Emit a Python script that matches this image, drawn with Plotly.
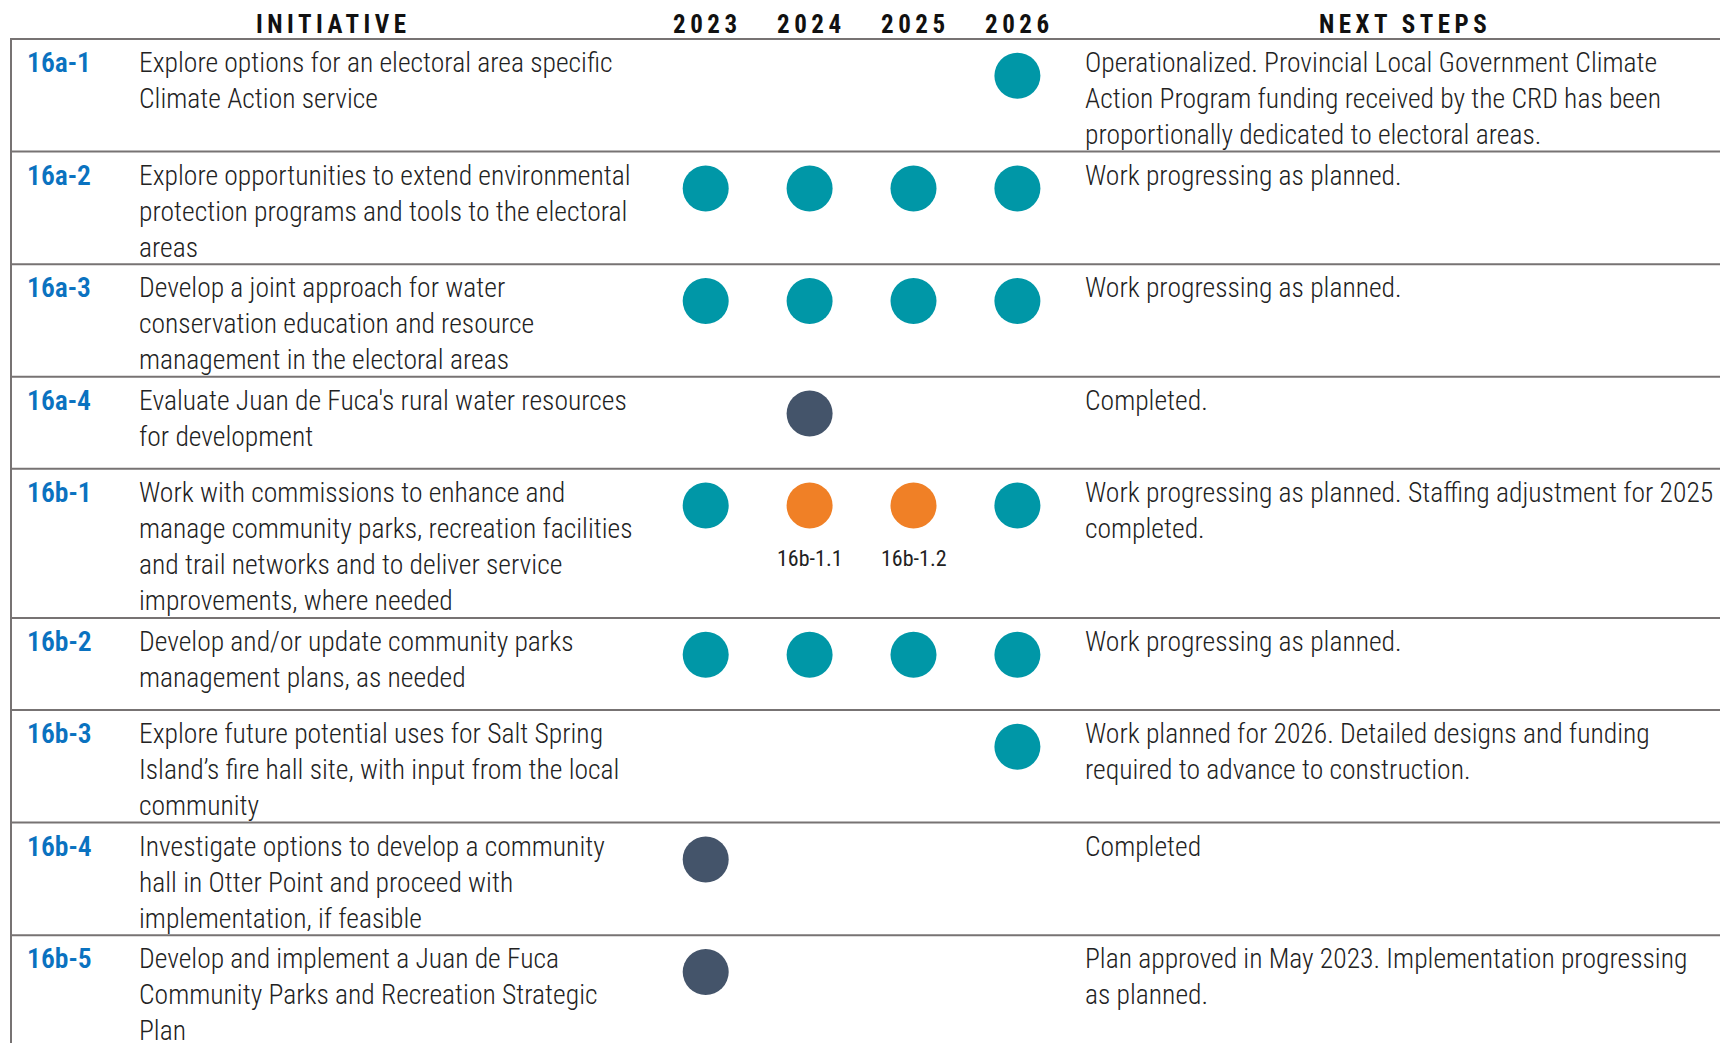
import plotly.graph_objects as go

# ---------------- data ----------------
ids = ["16a-1", "16a-2", "16a-3", "16a-4", "16b-1", "16b-2", "16b-3", "16b-4", "16b-5"]
initiatives = [
    "Explore options for an electoral area specific<br>Climate Action service",
    "Explore opportunities to extend environmental<br>protection programs and tools to the electoral<br>areas",
    "Develop a joint approach for water<br>conservation education and resource<br>management in the electoral areas",
    "Evaluate Juan de Fuca's rural water resources<br>for development",
    "Work with commissions to enhance and<br>manage community parks, recreation facilities<br>and trail networks and to deliver service<br>improvements, where needed",
    "Develop and/or update community parks<br>management plans, as needed",
    "Explore future potential uses for Salt Spring<br>Island\u2019s fire hall site, with input from the local<br>community",
    "Investigate options to develop a community<br>hall in Otter Point and proceed with<br>implementation, if feasible",
    "Develop and implement a Juan de Fuca<br>Community Parks and Recreation Strategic<br>Plan",
]
next_steps = [
    "Operationalized. Provincial Local Government Climate<br>Action Program funding received by the CRD has been<br>proportionally dedicated to electoral areas.",
    "Work progressing as planned.",
    "Work progressing as planned.",
    "Completed.",
    "Work progressing as planned. Staffing adjustment for 2025<br>completed.",
    "Work progressing as planned.",
    "Work planned for 2026. Detailed designs and funding<br>required to advance to construction.",
    "Completed",
    "Plan approved in May 2023. Implementation progressing<br>as planned.",
]
years = [2023, 2024, 2025, 2026]
# status per row for each year: "P" = in progress/planned, "C" = complete, "A" = adjusted, None = nothing
status = [
    [None, None, None, "P"],
    ["P", "P", "P", "P"],
    ["P", "P", "P", "P"],
    [None, "C", None, None],
    ["P", "A", "A", "P"],
    ["P", "P", "P", "P"],
    [None, None, None, "P"],
    ["C", None, None, None],
    ["C", None, None, None],
]
sub_labels = [
    [None] * 4, [None] * 4, [None] * 4, [None] * 4,
    [None, "16b-1.1", "16b-1.2", None],
    [None] * 4, [None] * 4, [None] * 4, [None] * 4,
]
headers = ["INITIATIVE", "NEXT STEPS"]

# ---------------- styles / layout ----------------
W, H = 1720, 1043
colors = {"P": "#0097A7", "C": "#44546A", "A": "#F08026"}
line_color = "#777373"
text_color = "#222222"
id_color = "#0A72C0"
body_font = "Roboto Condensed"
body_size = 27.6
line_h = 36.6
table_top = 39
left_x = 11
id_x = 25
init_x = 137
next_x = 1083
year0_px, year_step_px = 705.7, 103.9
marker_d = 46
ls = 4.5

def nlines(s):
    return s.count("<br>") + 1

row_h = [max(92.0, nlines(a) * line_h + 2.8, nlines(b) * line_h + 2.8) for a, b in zip(initiatives, next_steps)]
row_top = []
t = table_top
for h in row_h:
    row_top.append(t)
    t += h

fig = go.Figure()

for code in ["P", "C", "A"]:
    xs, ys = [], []
    for i, row in enumerate(status):
        for j, s in enumerate(row):
            if s == code:
                xs.append(years[j])
                ys.append(row_top[i] + 36.8)
    fig.add_trace(go.Scatter(x=xs, y=ys, mode="markers", xaxis="x2", yaxis="y",
                             marker=dict(size=marker_d, color=colors[code], line=dict(width=0)),
                             hoverinfo="skip", showlegend=False))

for i, row in enumerate(sub_labels):
    for j, lab in enumerate(row):
        if lab:
            fig.add_annotation(x=years[j], y=row_top[i] + 90, xref="x2", yref="y", text=lab,
                               showarrow=False, xanchor="center", yanchor="middle",
                               font=dict(family=body_font, size=22, weight=400, color=text_color))

for i in range(len(ids)):
    ty = row_top[i] + 5
    fig.add_annotation(x=id_x, y=ty, xref="x", yref="y", text=ids[i], showarrow=False,
                       xanchor="left", yanchor="top", align="left",
                       font=dict(family=body_font, size=body_size, weight=600, color=id_color))
    fig.add_annotation(x=init_x, y=ty, xref="x", yref="y", text=initiatives[i], showarrow=False,
                       xanchor="left", yanchor="top", align="left",
                       font=dict(family=body_font, size=body_size, weight=300, color=text_color))
    fig.add_annotation(x=next_x, y=ty, xref="x", yref="y", text=next_steps[i], showarrow=False,
                       xanchor="left", yanchor="top", align="left",
                       font=dict(family=body_font, size=body_size, weight=300, color=text_color))

hdr_font = dict(family=body_font, size=25, weight=700, color="#111111")
def spaced(s):
    return '<span style="letter-spacing:%.1fpx">' % ls + s + "</span>"
fig.add_annotation(x=331 + ls / 2, y=24, xref="x", yref="y", text=spaced(headers[0]), showarrow=False,
                   xanchor="center", yanchor="middle", font=hdr_font)
fig.add_annotation(x=1403 + ls / 2, y=24, xref="x", yref="y", text=spaced(headers[1]), showarrow=False,
                   xanchor="center", yanchor="middle", font=hdr_font)
for yv in years:
    fig.add_annotation(x=yv + ls / 2 / year_step_px, y=24, xref="x2", yref="y", text=spaced(str(yv)),
                       showarrow=False, xanchor="center", yanchor="middle", font=hdr_font)

shapes = []
for rt in row_top:
    shapes.append(dict(type="line", xref="x", yref="y", x0=left_x, x1=W, y0=rt, y1=rt,
                       line=dict(color=line_color, width=2)))
shapes.append(dict(type="line", xref="x", yref="y", x0=left_x, x1=left_x, y0=table_top - 1, y1=H + 10,
                   line=dict(color=line_color, width=2)))
fig.update_layout(shapes=shapes)

fig.update_layout(
    width=W, height=H, margin=dict(l=0, r=0, t=0, b=0),
    paper_bgcolor="white", plot_bgcolor="white",
    xaxis=dict(range=[0, W], visible=False, fixedrange=True),
    xaxis2=dict(range=[years[0] - year0_px / year_step_px, years[0] + (W - year0_px) / year_step_px],
                overlaying="x", visible=False, fixedrange=True),
    yaxis=dict(range=[H, 0], visible=False, fixedrange=True),
    showlegend=False,
)
fig.write_html("out.html", config={"displayModeBar": False},
               post_script="document.body.style.margin='0';document.body.style.overflow='hidden';")
